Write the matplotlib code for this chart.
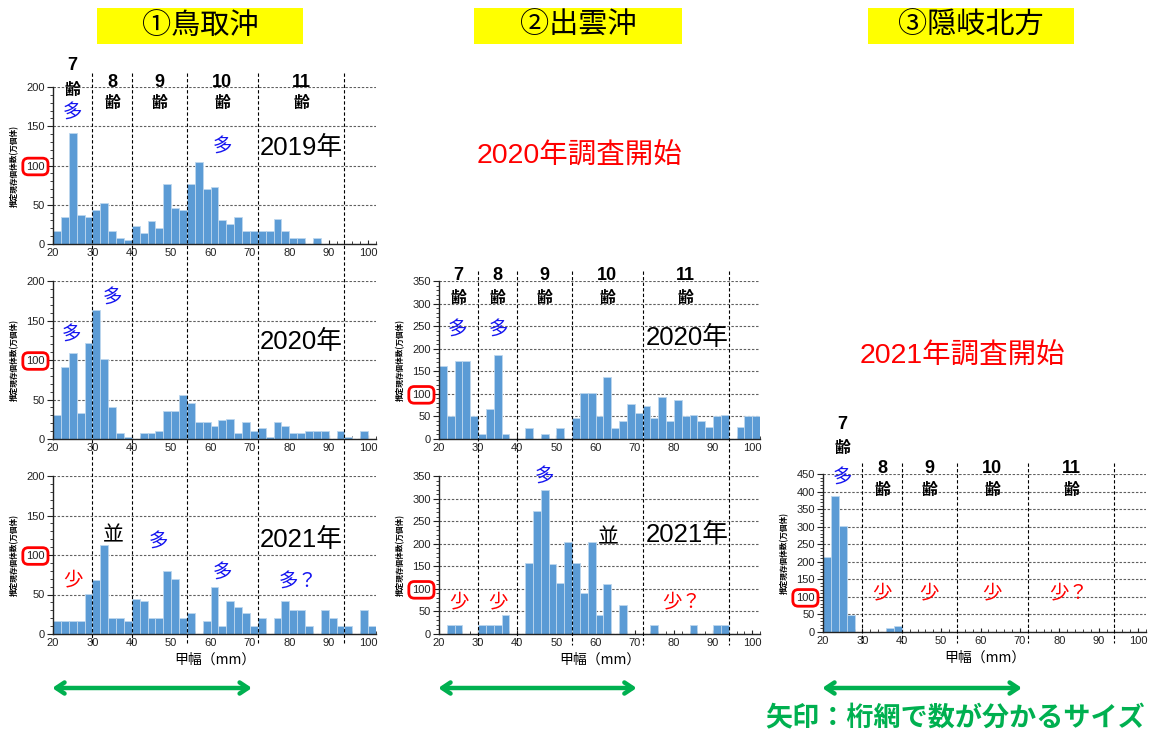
import matplotlib
matplotlib.use("Agg")
import matplotlib.pyplot as plt
from matplotlib.patches import Rectangle
from matplotlib.lines import Line2D
from matplotlib.ticker import MultipleLocator
from matplotlib.transforms import blended_transform_factory

plt.rcParams['font.family'] = ['Noto Sans CJK JP', 'DejaVu Sans']

W, H = 1151, 735

# carapace-width classes: lower edge of each 2 mm class (mm)
width_classes = list(range(20, 102, 2))

# estimated standing stock (10,000 individuals) per width class
tottori_2019 = [17, 35, 142, 37, 35, 43, 52, 17, 8, 5,
                23, 14, 29, 20, 76, 46, 43, 76, 104, 70,
                72, 31, 26, 35, 17, 17, 17, 17, 32, 17,
                8, 8, 0, 8, 0, 0, 0, 0, 0, 0, 0]
tottori_2020 = [30, 91, 109, 33, 122, 163, 101, 40, 7, 3,
                0, 7, 7, 10, 35, 35, 56, 45, 21, 21,
                17, 24, 25, 7, 21, 10, 14, 3, 21, 17,
                7, 7, 10, 10, 10, 0, 10, 3, 0, 10, 0]
tottori_2021 = [16, 16, 16, 16, 51, 68, 113, 20, 20, 16,
                44, 42, 20, 20, 80, 70, 20, 27, 0, 16,
                59, 10, 42, 34, 27, 10, 20, 0, 20, 42,
                30, 30, 10, 0, 30, 20, 10, 10, 0, 30, 10]
izumo_2020 = [161, 51, 173, 173, 51, 11, 66, 186, 11, 0,
              0, 24, 0, 11, 0, 24, 0, 46, 103, 103,
              51, 138, 24, 39, 77, 58, 72, 46, 92, 39,
              86, 51, 54, 39, 27, 51, 54, 0, 27, 50, 50]
izumo_2021 = [0, 20, 20, 0, 0, 21, 20, 21, 43, 0,
              0, 158, 272, 318, 154, 113, 203, 158, 90, 203,
              43, 110, 0, 64, 0, 0, 0, 21, 0, 0,
              0, 0, 20, 0, 0, 20, 21, 0, 0, 0, 0]
oki_2021 = [215, 388, 301, 47, 0, 0, 0, 0, 11, 18,
            0, 0, 0, 0, 0, 0, 0, 0, 0, 0,
            0, 0, 0, 0, 0, 0, 0, 0, 0, 0,
            0, 0, 0, 0, 0, 0, 0, 0, 0, 0, 0]

# instar (age) boundaries in carapace width (mm) and their names
age_edges = [20, 30, 40, 54, 72, 94]
age_names = ["7", "8", "9", "10", "11"]
x_ticks = [20, 30, 40, 50, 60, 70, 80, 90, 100]

area_titles = ["①鳥取沖", "②出雲沖", "③隠岐北方"]
year_2019, year_2020, year_2021 = "2019年", "2020年", "2021年"
ylabel_text = "推定現存個体数(万個体)"
xlabel_text = "甲幅（mm）"

BAR = "#5B9BD5"
EDGE = "#BDD7EE"
BLUE = "#1515F0"
RED = "#FF0000"
GREEN = "#00B050"

# Latin digits in an Arial-like face, Japanese falling back to Noto CJK
LATIN = ["Liberation Sans", "Noto Sans CJK JP"]

fig = plt.figure(figsize=(W / 100, H / 100), dpi=100)


def fx(px):
    return px / W


def fy(py):
    return 1 - py / H


def add_panel(left, top, right, bottom):
    ax = fig.add_axes([fx(left), fy(bottom), (right - left) / W, (bottom - top) / H])
    ax.set_facecolor("none")
    return ax


def draw_panel(ax, values, ymax):
    ax.bar(width_classes, values, width=2, align="edge", color=BAR,
           edgecolor=EDGE, linewidth=0.6, zorder=2)
    ax.set_xlim(20, 102)
    ax.set_ylim(0, ymax)
    ax.set_xticks(x_ticks, [str(v) for v in x_ticks])
    ax.xaxis.set_minor_locator(MultipleLocator(2))
    yt = list(range(0, ymax + 1, 50))
    ax.set_yticks(yt, [str(v) for v in yt])
    ax.yaxis.set_minor_locator(MultipleLocator(10))
    ax.grid(axis="y", which="major", linestyle=(0, (2.2, 1.5)),
            color="#606060", linewidth=0.8, zorder=1)
    for s in ("top", "right"):
        ax.spines[s].set_visible(False)
    for s in ("left", "bottom"):
        ax.spines[s].set_color("#222222")
        ax.spines[s].set_linewidth(1.0)
        ax.spines[s].set_zorder(3)
    ax.tick_params(axis="y", which="major", direction="out", length=4,
                   width=0.8, labelsize=8, pad=2, colors="#222222")
    ax.tick_params(axis="y", which="minor", direction="out", length=2, width=0.6,
                   colors="#222222")
    ax.tick_params(axis="x", which="major", direction="in", length=3,
                   width=0.8, labelsize=8, pad=3, colors="#222222")
    ax.tick_params(axis="x", which="minor", direction="in", length=2, width=0.6,
                   colors="#222222")
    for lab in ax.get_xticklabels() + ax.get_yticklabels():
        lab.set_family(LATIN)
    ax.set_ylabel(ylabel_text, fontsize=5.5, fontweight="bold")
    ax.yaxis.set_label_coords(-0.105, 0.5)
    for lab in ax.get_yticklabels():
        if lab.get_text() == "100":
            lab.set_bbox(dict(boxstyle="round,pad=0.3,rounding_size=0.5",
                              fc="none", ec=RED, lw=2))


def note(ax, x, y, s, color, size=14, weight="normal", family=None):
    ax.text(x, y, s, color=color, fontsize=size, ha="center", va="center",
            fontweight=weight, family=family, zorder=5)


def age_labels(ax, digit_y, kanji_y, first=None):
    for i, name in enumerate(age_names):
        cx = (age_edges[i] + age_edges[i + 1]) / 2
        dy, ky = (first if (i == 0 and first) else (digit_y, kanji_y))
        note(ax, cx, dy, name, "black", size=13, weight="bold", family=LATIN)
        note(ax, cx, ky, "齢", "black", size=11.5, weight="bold")


def age_lines(ax, top_px, bottom_px):
    tr = blended_transform_factory(ax.transData, fig.transFigure)
    for b in age_edges[1:]:
        fig.add_artist(Line2D([b, b], [fy(top_px), fy(bottom_px)], transform=tr,
                              color="black", linewidth=0.8,
                              linestyle=(0, (3, 2)), zorder=4))


def width_arrow(ax, y_px):
    tr = blended_transform_factory(ax.transData, fig.transFigure)
    ax.annotate("", xy=(70.5, fy(y_px)), xytext=(19.8, fy(y_px)),
                xycoords=tr, textcoords=tr,
                arrowprops=dict(arrowstyle="<->,head_length=0.6,head_width=0.4",
                                color=GREEN, lw=3.2, shrinkA=0, shrinkB=0))


# ---- panels ----
ax_t19 = add_panel(53, 87, 376, 244)
ax_t20 = add_panel(53, 281, 376, 439)
ax_t21 = add_panel(53, 476, 376, 634)
ax_i20 = add_panel(439, 281, 760, 439)
ax_i21 = add_panel(439, 476, 760, 634)
ax_o21 = add_panel(823, 474, 1146, 632)

draw_panel(ax_t19, tottori_2019, 200)
draw_panel(ax_t20, tottori_2020, 200)
draw_panel(ax_t21, tottori_2021, 200)
draw_panel(ax_i20, izumo_2020, 350)
draw_panel(ax_i21, izumo_2021, 350)
draw_panel(ax_o21, oki_2021, 450)

for ax in (ax_t21, ax_i21, ax_o21):
    ax.set_xlabel(xlabel_text, fontsize=10, labelpad=3)

age_lines(ax_t21, 73, 645)
age_lines(ax_i21, 271, 645)
age_lines(ax_o21, 463, 643)

YEAR_SIZE = 18.5

# ① Tottori
age_labels(ax_t19, 206, 180, first=(228, 196))
note(ax_t19, 25, 167, "多", BLUE)
note(ax_t19, 63, 124, "多", BLUE)
note(ax_t19, 83, 122, year_2019, "black", size=YEAR_SIZE, family=LATIN)

note(ax_t20, 24.8, 132, "多", BLUE)
note(ax_t20, 35, 178, "多", BLUE)
note(ax_t20, 83, 123, year_2020, "black", size=YEAR_SIZE, family=LATIN)

note(ax_t21, 25, 68, "少", RED)
note(ax_t21, 35.2, 125, "並", "black", size=15)
note(ax_t21, 46.7, 116, "多", BLUE)
note(ax_t21, 63, 77, "多", BLUE)
note(ax_t21, 82.2, 66, "多？", BLUE)
note(ax_t21, 83, 119, year_2021, "black", size=YEAR_SIZE, family=LATIN)

# ② Izumo
age_labels(ax_i20, 363, 312)
note(ax_i20, 24.6, 241, "多", BLUE)
note(ax_i20, 35.3, 241, "多", BLUE)
note(ax_i20, 83.3, 224, year_2020, "black", size=YEAR_SIZE, family=LATIN)

note(ax_i21, 47, 348, "多", BLUE)
note(ax_i21, 63.2, 215, "並", "black", size=15)
note(ax_i21, 83.3, 219, year_2021, "black", size=YEAR_SIZE, family=LATIN)
note(ax_i21, 25, 71, "少", RED)
note(ax_i21, 35, 71, "少", RED)
note(ax_i21, 82, 71, "少？", RED)

# ③ Oki
age_labels(ax_o21, 467, 404, first=(592, 524))
note(ax_o21, 25, 439, "多", BLUE)
note(ax_o21, 35, 111, "少", RED)
note(ax_o21, 46.8, 111, "少", RED)
note(ax_o21, 63, 111, "少", RED)
note(ax_o21, 82.4, 111, "少？", RED)

# area headers
for title, (x0, x1) in zip(area_titles, [(97, 303), (474, 682), (868, 1074)]):
    fig.add_artist(Rectangle((fx(x0), fy(44)), (x1 - x0) / W, 36 / H,
                             transform=fig.transFigure, facecolor="#FFFF00",
                             edgecolor="none", zorder=1))
    fig.text(fx((x0 + x1) / 2), fy(26), title, fontsize=21, ha="center",
             va="center", zorder=2)

fig.text(fx(580), fy(157), "2020年調査開始", color=RED, fontsize=20.5,
         ha="center", va="center", family=LATIN)
fig.text(fx(962), fy(357), "2021年調査開始", color=RED, fontsize=20.5,
         ha="center", va="center", family=LATIN)

# size range caught by the beam trawl
width_arrow(ax_t21, 688)
width_arrow(ax_i21, 688)
width_arrow(ax_o21, 688)
fig.text(fx(955), fy(718), "矢印：桁網で数が分かるサイズ", color=GREEN,
         fontsize=19.5, fontweight="bold", ha="center", va="center")

fig.savefig("out.png", dpi=100)
